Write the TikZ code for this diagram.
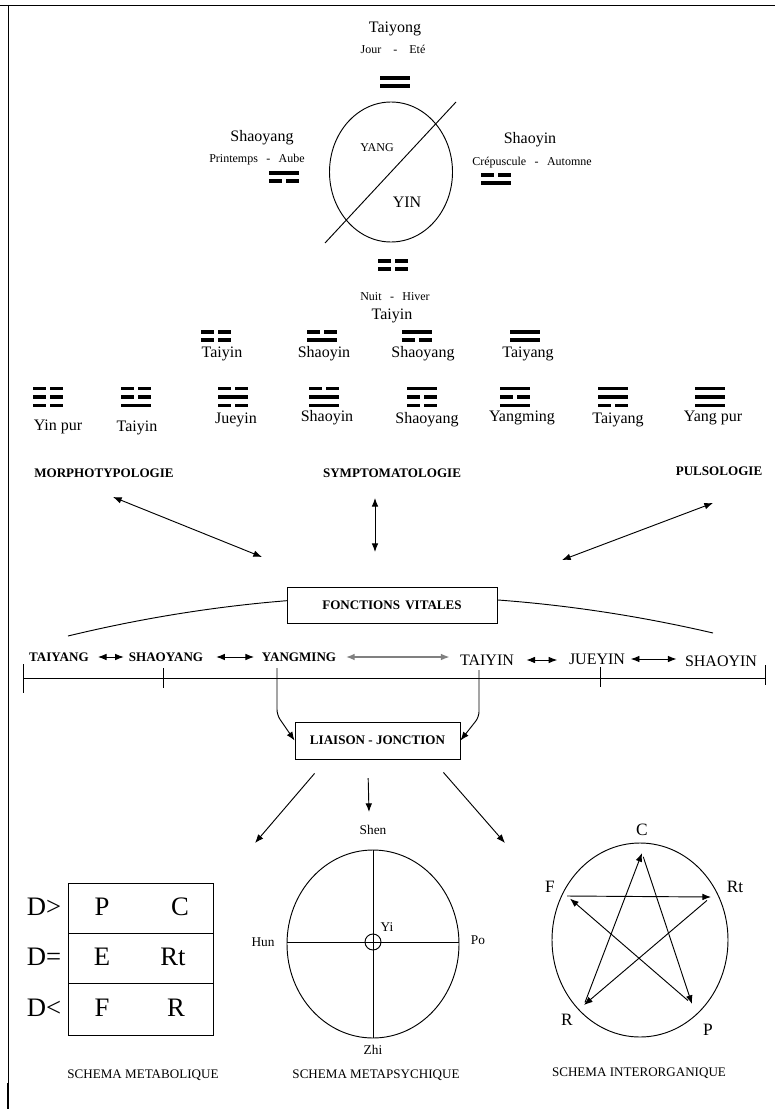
\documentclass[tikz,border=0pt]{standalone}
\usepackage{fontspec}
\setmainfont{Liberation Serif}
\usetikzlibrary{arrows.meta}
% one symbol of two or three lines: x, y of top line, lines from top (1 yang, 0 yin)
\newcommand{\gua}[3]{%
  \edef\gualist{#3}%
  \foreach \yao [count=\i] in \gualist {%
    \pgfmathsetmacro{\guay}{#2+(\i-1)*8.5}%
    \ifnum\yao=1
      \fill (#1-15,\guay-1.9) rectangle (#1+15,\guay+1.9);
    \else
      \fill (#1-15,\guay-1.9) rectangle (#1-1.8,\guay+1.9);
      \fill (#1+1.8,\guay-1.9) rectangle (#1+15,\guay+1.9);
    \fi}}
\tikzset{%
  txt/.style      = {inner sep=1pt, font=\fontsize{12}{13}\selectfont},%
  smalltxt/.style = {inner sep=1pt, font=\fontsize{9}{10}\selectfont},%
  headtxt/.style  = {inner sep=1pt, font=\bfseries\fontsize{9.8}{10}\selectfont},%
  captxt/.style   = {inner sep=1pt, font=\fontsize{9.8}{10}\selectfont},%
  bigtxt/.style   = {inner sep=1pt, font=\fontsize{20}{22}\selectfont},%
  vitalbox/.style = {draw, fill=white, headtxt, inner sep=2pt},%
  arr/.style      = {->},%
  dbl/.style      = {<->}%
}
\begin{document}
\begin{tikzpicture}[x=0.75pt,y=-0.75pt,line width=0.7pt,
	>={Latex[length=6.5pt,width=5pt]}]
	\useasboundingbox (0,0) rectangle (775,1109);
	% frame
	\draw (0,5) -- (775,5);
	\draw (8,5) -- (8,1109);
	\draw[line width=1.6pt] (8,1083) -- (8,1109);

	% the four seasons round the circle
	\node[txt] (tyTop) at (395,29) {Taiyong};
	\node[smalltxt] (tyTime) at (393,49) {Jour\hspace{1em}-\hspace{1em}Eté};
	\gua{395}{77.75}{1,1}
	\node[txt] (syLeft) at (262,138) {Shaoyang};
	\node[smalltxt] (syTime) at (257,160) {Printemps\hspace{0.7em}-\hspace{0.7em}Aube};
	\gua{284}{172.75}{1,0}
	\node[txt] (siRight) at (530,140) {Shaoyin};
	\node[smalltxt] (siTime) at (532,163) {Crépuscule\hspace{0.7em}-\hspace{0.7em}Automne};
	\gua{496}{174.75}{0,1}
	\draw (391,172) ellipse [x radius=61.5, y radius=70];
	\draw (325,243) -- (456,102);
	\node[smalltxt] (yang) at (377,148) {YANG};
	\node[txt] (yin) at (407,202) {YIN};
	\gua{393}{260.75}{0,0}
	\node[smalltxt] (tiTime) at (395,297) {Nuit\hspace{0.7em}-\hspace{0.7em}Hiver};
	\node[txt] (tiBottom) at (392,316) {Taiyin};

	% two lines
	\foreach \gx/\lx/\pat/\nm [count=\k] in {216/222/{0,0}/Taiyin, 322/324/{0,1}/Shaoyin,
		417/423/{1,0}/Shaoyang, 525/528/{1,1}/Taiyang}
	{
		\gua{\gx}{331.75}{\pat}
		\node[txt] (di\k) at (\lx,354) {\nm};
	}
	% three lines
	\foreach \gx/\lx/\ly/\pat/\nm [count=\k] in {48/58/427/{0,0,0}/Yin pur,
		136/137/428/{0,0,1}/Taiyin, 233/236/420/{0,1,0}/Jueyin,
		324/327/418/{0,1,1}/Shaoyin, 422/427/420/{1,0,0}/Shaoyang,
		515/522/418/{1,0,1}/Yangming, 613/618/420/{1,1,0}/Taiyang,
		710/713/418/{1,1,1}/Yang pur}
	{
		\gua{\gx}{388.5}{\pat}
		\node[txt] (tri\k) at (\lx,\ly) {\nm};
	}

	% the three approaches
	\node[headtxt] (morpho) at (104,473) {MORPHOTYPOLOGIE};
	\node[headtxt] (sympto) at (392,473) {SYMPTOMATOLOGIE};
	\node[headtxt] (pulso) at (719,471) {PULSOLOGIE};
	\coordinate (morphoEnd) at (113,497);
	\coordinate (morphoTip) at (262,557);
	\coordinate (symptoEnd) at (375,498);
	\coordinate (symptoTip) at (375,552);
	\coordinate (pulsoEnd) at (713,503);
	\coordinate (pulsoTip) at (562,560);
	\draw[dbl] (morphoEnd) -- (morphoTip);
	\draw[dbl] (symptoEnd) -- (symptoTip);
	\draw[dbl] (pulsoEnd) -- (pulsoTip);

	% vital functions over the six levels
	\draw (68,636) .. controls (283,584) and (498,583) .. (713,633);
	\node[vitalbox, minimum width=157.5pt, minimum height=27pt] (vital) at (392,605)
		{FONCTIONS\hspace{0.4em}VITALES};
	\draw (23,678) -- (765,678);
	\draw (23,664) -- (23,693);
	\draw (163,668) -- (163,688);
	\draw (600,667) -- (600,687);
	\draw (765,665) -- (765,685);
	\node[headtxt] (aTy) at (59,657) {TAIYANG};
	\node[headtxt] (aSy) at (166,657) {SHAOYANG};
	\node[headtxt] (aYm) at (299,657) {YANGMING};
	\node[txt] (aTi) at (487,660) {TAIYIN};
	\node[txt] (aJy) at (597,659) {JUEYIN};
	\node[txt] (aSi) at (721,661) {SHAOYIN};
	\draw[dbl, shorten <=5.5pt, shorten >=2.5pt] (aTy.east) -- (aSy.west);
	\draw[dbl, shorten <=8.5pt, shorten >=4.5pt] (aSy.east) -- (aSy.east -| aYm.west);
	\draw[dbl, gray, line width=1.1pt, shorten <=6pt, shorten >=6.5pt] (aYm.east) -- (aYm.east -| aTi.west);
	\draw[dbl, shorten <=8pt, shorten >=7.5pt] (aTi.east) -- (aTi.east -| aJy.west);
	\draw[dbl, shorten <=3pt, shorten >=5pt] (aJy.east) -- (aJy.east -| aSi.west);

	% link
	\node[vitalbox, minimum width=123.75pt, minimum height=27.75pt] (liaison) at (377.5,740.5)
		{LIAISON - JONCTION};
	\coordinate (ymFoot) at (277,668);
	\coordinate (tiFoot) at (479,670);
	\draw[arr, rounded corners=4pt] (ymFoot) -- (277,715) -- (liaison.west);
	\draw[arr, rounded corners=4pt] (tiFoot) -- (479,717) -- (liaison.east);
	\coordinate (toMeta) at (255,843);
	\coordinate (toPsy) at (369,812);
	\coordinate (toInter) at (505,843);
	\draw[arr] ([xshift=15pt,yshift=-10.5pt]liaison.south west) -- (toMeta);
	\draw[arr] ([xshift=-7pt,yshift=-14pt]liaison.south) -- (toPsy);
	\draw[arr] ([xshift=-12.75pt,yshift=-9.75pt]liaison.south east) -- (toInter);

	% metabolic scheme
	\draw (68,883) rectangle (213,1035);
	\draw (68,933) -- (213,933);
	\draw (68,983) -- (213,983);
	\node[bigtxt] (dMore) at (44,907) {D>};
	\node[bigtxt] (dSame) at (44,957) {D=};
	\node[bigtxt] (dLess) at (44,1008) {D<};
	\node[bigtxt] (mP) at (102,907) {P};
	\node[bigtxt] (mC) at (180,907) {C};
	\node[bigtxt] (mE) at (102,957) {E};
	\node[bigtxt] (mRt) at (173,957) {Rt};
	\node[bigtxt] (mF) at (102,1008) {F};
	\node[bigtxt] (mR) at (176,1008) {R};
	\node[captxt] (metaName) at (143,1075) {SCHEMA METABOLIQUE};

	% metapsychic scheme
	\draw (373,944) ellipse [x radius=86, y radius=94];
	\draw (373,850) -- (373,1038);
	\draw (287,942) -- (459,942);
	\draw (373,942) circle [radius=8];
	\node[smalltxt, font=\fontsize{10}{11}\selectfont] (shen) at (373,830) {Shen};
	\node[smalltxt, font=\fontsize{10}{11}\selectfont] (hun) at (263,942) {Hun};
	\node[smalltxt, font=\fontsize{10}{11}\selectfont] (po) at (478,940) {Po};
	\node[smalltxt, font=\fontsize{10}{11}\selectfont] (zhi) at (373,1050) {Zhi};
	\node[smalltxt, font=\fontsize{10}{11}\selectfont] (yi) at (387,927) {Yi};
	\node[captxt] (psyName) at (376,1075) {SCHEMA METAPSYCHIQUE};

	% inter-organ scheme
	\draw (640,940) ellipse [x radius=88, y radius=97];
	\coordinate (vF) at (567,896);
	\coordinate (vRt) at (711,897);
	\coordinate (vC) at (642,853);
	\coordinate (vR) at (584,1005);
	\coordinate (vP) at (692,1004);
	\draw[arr] (vF) -- (vRt);
	\draw[arr, shorten <=4pt] (vRt) -- (vR);
	\draw[arr, shorten <=2pt] (vR) -- (vC);
	\draw[arr, shorten <=3pt] (vC) -- (vP);
	\draw[arr, shorten <=4pt, shorten >=3pt] (vP) -- (vF);
	\node[txt, font=\fontsize{13}{14}\selectfont] (iC) at (642,830) {C};
	\node[txt, font=\fontsize{13}{14}\selectfont] (iF) at (550,887) {F};
	\node[txt, font=\fontsize{13}{14}\selectfont] (iRt) at (735,887) {Rt};
	\node[txt, font=\fontsize{13}{14}\selectfont] (iR) at (567,1020) {R};
	\node[txt, font=\fontsize{13}{14}\selectfont] (iP) at (708,1030) {P};
	\node[captxt] (interName) at (639,1073) {SCHEMA INTERORGANIQUE};
\end{tikzpicture}
\end{document}
